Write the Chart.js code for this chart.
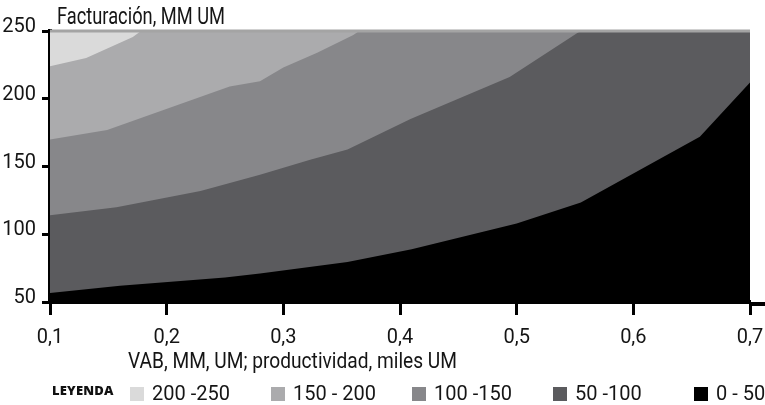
<!DOCTYPE html>
<html><head><meta charset="utf-8">
<script src="https://cdn.jsdelivr.net/npm/chart.js@4"></script>
<style>
html,body{margin:0;padding:0;background:#fff;}
#wrap{position:relative;width:765px;height:405px;overflow:hidden;font-family:Roboto,'Noto Sans',sans-serif;color:#151515;}
canvas{position:absolute;left:0;top:0;}
.t{position:absolute;white-space:nowrap;line-height:1;transform-origin:0 0;}
#ytitle{left:57px;top:5px;font-size:23px;}
#xtitle{left:128px;top:350px;font-size:22px;}
#leyenda{left:52px;top:384px;font-size:13px;font-weight:800;font-family:'Open Sans',sans-serif;letter-spacing:0.2px;color:#111;}
.li{position:absolute;top:382px;height:22px;font-size:20px;white-space:nowrap;line-height:22px;}
.sq{display:inline-block;width:14px;height:14px;vertical-align:-1px;margin-right:8px;}
</style></head><body>
<div id="wrap">
<canvas id="c" width="765" height="405" style="width:765px;height:405px"></canvas>
<div class="t" id="ytitle">Facturación, MM UM</div>
<div class="t" id="xtitle">VAB, MM, UM; productividad, miles UM</div>
<div class="t" id="leyenda">LEYENDA</div>
<div id="legend"></div>
</div>
<script>
// ---- data ----
const regionLabels = ['200 -250', '150 - 200', '100 -150', '50 -100', '0 - 50'];
const regionColors = ['#dadada', '#ababad', '#87878a', '#5b5b5e', '#000000'];

// upper boundary of each region (x = VAB, y = Facturación)
const top200X = [0.1, 0.7];
const top200Y = [250, 250];
const top150X = [0.1, 0.131, 0.171, 0.178, 0.7];
const top150Y = [224, 230, 245.6, 250, 250];
const top100X = [0.1, 0.149, 0.254, 0.28, 0.3, 0.329, 0.36, 0.365, 0.7];
const top100Y = [170, 177, 209, 213, 223, 234, 247, 250, 250];
const top50X  = [0.1, 0.157, 0.229, 0.28, 0.323, 0.355, 0.409, 0.494, 0.552, 0.555, 0.7];
const top50Y  = [114, 120, 132, 144, 155, 162.5, 185, 216, 248.5, 250, 250];
const top0X   = [0.1, 0.16, 0.25, 0.28, 0.355, 0.41, 0.5, 0.555, 0.657, 0.7];
const top0Y   = [56.6, 62, 68, 71, 79.5, 89, 108, 123.5, 172, 212];

const xTicks = [0.1, 0.2, 0.3, 0.4, 0.5, 0.6, 0.7];
const yTicks = [50, 100, 150, 200, 250];

// ---- build ----
const bX = [top200X, top150X, top100X, top50X, top0X];
const bY = [top200Y, top150Y, top100Y, top50Y, top0Y];
const pts = (xs, ys) => xs.map((x, i) => ({x: x, y: ys[i]}));
const tickFont = {family: "Roboto,'Noto Sans',sans-serif", size: 20};

const datasets = regionLabels.map((lab, i) => ({
  label: lab,
  data: pts(bX[i], bY[i]),
  backgroundColor: regionColors[i],
  borderColor: regionColors[i],
  borderWidth: 0,
  pointRadius: 0,
  tension: 0,
  fill: 'start',
  order: regionLabels.length - i
}));
datasets.push({
  label: 'tope',
  data: pts(top200X, top200Y),
  borderColor: '#a4a4a4',
  borderWidth: 3,
  pointRadius: 0,
  fill: false,
  clip: false,
  order: -1
});

// extends the x axis line to the right edge, as in the reference
const axisExtend = {
  id: 'axisExtend',
  afterDraw(chart) {
    const ctx = chart.ctx, a = chart.chartArea, sx = chart.scales.x;
    ctx.save();
    ctx.fillStyle = '#000';
    ctx.fillRect(a.right, sx.top, chart.width - a.right, 4);
    ctx.restore();
  }
};

new Chart(document.getElementById('c'), {
  type: 'line',
  data: {datasets: datasets},
  plugins: [axisExtend],
  options: {
    responsive: false,
    animation: false,
    devicePixelRatio: 1,
    layout: {padding: {left: 0, top: 31, right: 15, bottom: 0}},
    plugins: {legend: {display: false}, tooltip: {enabled: false}},
    scales: {
      x: {
        type: 'linear', min: 0.1, max: 0.7,
        afterBuildTicks: s => { s.ticks = xTicks.map(v => ({value: v})); },
        afterFit: s => { s.height = 103; s.paddingLeft = 0; s.paddingRight = 0; },
        ticks: {color: '#151515', font: tickFont, padding: 11,
          callback: v => v.toFixed(1).replace('.', ','), maxRotation: 0},
        grid: {display: true, drawOnChartArea: false, drawTicks: true, tickLength: 13, tickWidth: 3, tickColor: '#000'},
        border: {display: true, color: '#000', width: 4}
      },
      y: {
        min: 50, max: 250,
        afterBuildTicks: s => { s.ticks = yTicks.map(v => ({value: v})); },
        afterFit: s => { s.width = 50; s.paddingTop = 0; s.paddingBottom = 0; },
        ticks: {color: '#151515', font: tickFont, padding: 6, labelOffset: -4},
        grid: {display: true, drawOnChartArea: false, drawTicks: true, tickLength: 8, tickWidth: 3, tickColor: '#000'},
        border: {display: true, color: '#000', width: 4}
      }
    }
  }
});

// legend
const lg = document.getElementById('legend');
regionLabels.forEach((lab, i) => {
  const d = document.createElement('div');
  d.className = 'li';
  d.style.left = (130 + i * 141) + 'px';
  d.innerHTML = '<span class="sq" style="background:' + regionColors[i] + '"></span>' + lab;
  lg.appendChild(d);
});

// condensed look: fit titles to the reference widths
function fitWidth(id, w) {
  const el = document.getElementById(id);
  const r = el.getBoundingClientRect().width;
  if (r > 0) el.style.transform = 'scaleX(' + (w / r) + ')';
}
fitWidth('ytitle', 168);
fitWidth('xtitle', 329);
</script>
</body></html>
